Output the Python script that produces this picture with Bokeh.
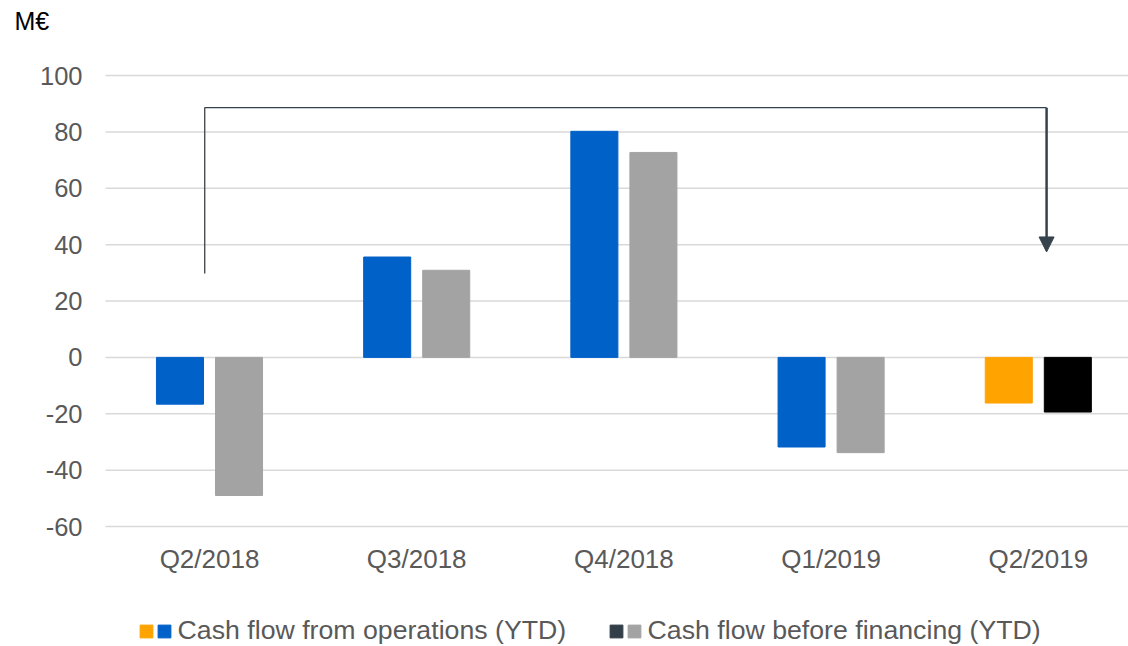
from bokeh.plotting import figure
from bokeh.models import (Range1d, Legend, LegendItem, Arrow, NormalHead, ColumnDataSource)
from bokeh.core.properties import value
from bokeh.embed import file_html
from bokeh.resources import INLINE

# ---------------- data ----------------
categories = ["Q2/2018", "Q3/2018", "Q4/2018", "Q1/2019", "Q2/2019"]
cf_operations = [-16.6, 35.6, 80.2, -31.8, -16.2]
cf_before_financing = [-49.0, 30.9, 72.7, -33.8, -19.4]
ops_colors = ["#0061C8", "#0061C8", "#0061C8", "#0061C8", "#FFA300"]
fin_colors = ["#A3A3A3", "#A3A3A3", "#A3A3A3", "#A3A3A3", "#000000"]
y_ticks = [-60, -40, -20, 0, 20, 40, 60, 80, 100]
y_tick_labels = ["-60", "-40", "-20", "0", "20", "40", "60", "80", "100"]
legend_labels = ["Cash flow from operations (YTD)", "Cash flow before financing (YTD)"]
unit_label = "M€"

# bracket annotation (compares first and last period)
bracket_from_idx = 0
bracket_to_idx = 4
bracket_top = 88.6
bracket_left_bottom = 29.8
bracket_arrow_tip = 37.4

# ---------------- layout / style ----------------
W, H = 1128, 646
PX_X = 207.2            # px per category
X0_PX = 209             # pixel of first category centre
PLOT_LEFT_PX = 105      # left edge of plotting area
Y_TOP_PX, Y_BOT_PX = 75, 526   # pixels of y=100 and y=-60
Y_MAX, Y_MIN = 100, -60
PX_Y = (Y_BOT_PX - Y_TOP_PX) / (Y_MAX - Y_MIN)

FONT = "Liberation Sans"
TXT = "#595959"
GRID = "#D9D9D9"
DARK = "#36424C"
LEG_DARK = "#333F48"
BAR_W = 0.227
OFF = 0.1425
HAIR = "\u200a"
THIN = "\u2009"

x_start = -X0_PX / PX_X
x_end = (W - X0_PX) / PX_X
y_end = Y_MAX + Y_TOP_PX / PX_Y
y_start = Y_MIN - (H - Y_BOT_PX) / PX_Y
x_plot_left = (PLOT_LEFT_PX - X0_PX) / PX_X

idx = list(range(len(categories)))
src = ColumnDataSource(dict(
    x_ops=[i - OFF for i in idx],
    x_fin=[i + OFF for i in idx],
    ops=cf_operations,
    fin=cf_before_financing,
    ops_c=ops_colors,
    fin_c=fin_colors,
))

p = figure(width=W, height=H, output_backend="svg", toolbar_location=None,
           x_range=Range1d(x_start, x_end), y_range=Range1d(y_start, y_end),
           x_axis_location=None, y_axis_location=None,
           min_border_left=0, min_border_right=0, min_border_top=0, min_border_bottom=0)
p.outline_line_color = None
p.background_fill_color = "white"
p.border_fill_color = "white"
p.grid.visible = False

# horizontal grid lines at the y ticks
p.segment(x0=x_plot_left, x1=x_end, y0=y_ticks, y1=y_ticks,
          line_color=GRID, line_width=1.5)

# y tick labels
p.text(x=x_plot_left - 23 / PX_X, y=y_ticks, text=y_tick_labels,
       text_align="right", text_baseline="middle", text_font=value(FONT),
       text_font_size="25.5px", text_color=TXT)

# category labels
p.text(x=idx, y=Y_MIN - 32 / PX_Y, text=categories,
       text_align="center", text_baseline="middle", text_font=value(FONT),
       text_font_size="26px", text_color=TXT)

# unit label
p.text(x=[(14 - X0_PX) / PX_X], y=[Y_MAX + 55 / PX_Y], text=[unit_label],
       text_align="left", text_baseline="middle", text_font=value(FONT),
       text_font_size="25px", text_color="#000000")

# bars
r_ops = p.vbar(x="x_ops", top="ops", bottom=0, width=BAR_W, source=src,
               fill_color="ops_c", line_color="ops_c")
r_fin = p.vbar(x="x_fin", top="fin", bottom=0, width=BAR_W, source=src,
               fill_color="fin_c", line_color="fin_c")
# hidden proxy that only supplies the dark legend swatch
r_fin_dark = p.vbar(x="x_fin", top="fin", bottom=0, width=BAR_W, source=src,
                    fill_color=LEG_DARK, line_color=LEG_DARK, visible=False)

# bracket
xl = bracket_from_idx - 0.023
xr = bracket_to_idx + 0.04
p.line(x=[xl, xl, xr], y=[bracket_left_bottom, bracket_top, bracket_top],
       line_color=DARK, line_width=1.3)
p.add_layout(Arrow(end=NormalHead(size=15, fill_color=DARK, line_color=DARK),
                   x_start=xr, y_start=bracket_top, x_end=xr, y_end=bracket_arrow_tip,
                   line_color=DARK, line_width=2.5))

# legends (two swatches per entry)
last = len(categories) - 1
def make_legend(items, x_px):
    return Legend(items=items, orientation="horizontal", location=(x_px, 0),
                  glyph_width=16, glyph_height=16, label_standoff=0, label_width=0,
                  spacing=0, padding=0, margin=0, border_line_color=None,
                  background_fill_alpha=0, label_text_font=FONT,
                  label_text_font_size="26.7px", label_text_color=TXT)

leg1 = make_legend([LegendItem(label=HAIR, renderers=[r_ops], index=last),
                    LegendItem(label=THIN + legend_labels[0], renderers=[r_ops], index=0)], 138)
leg2 = make_legend([LegendItem(label=HAIR, renderers=[r_fin_dark], index=0),
                    LegendItem(label=THIN + legend_labels[1], renderers=[r_fin], index=0)], 608)
p.add_layout(leg1, "center")
p.add_layout(leg2, "center")

open("out.html", "w").write(file_html(p, INLINE))
